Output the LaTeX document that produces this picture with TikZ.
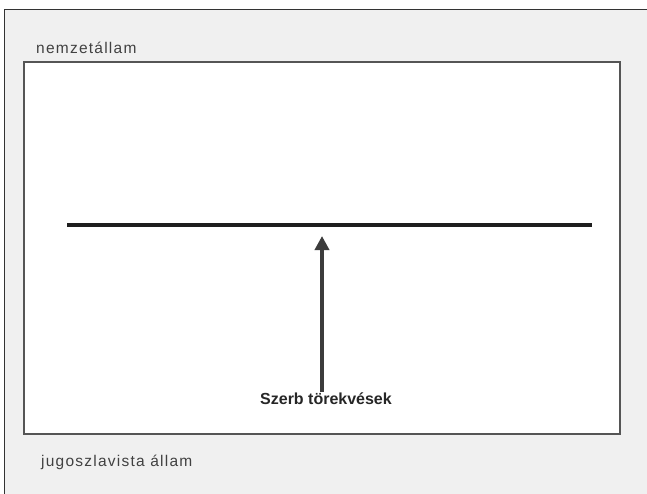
\documentclass[tikz,border=0pt]{standalone}
\usepackage{fontspec}
\setmainfont{Liberation Sans}
\usetikzlibrary{arrows.meta, positioning}
\definecolor{panelgray}{RGB}{240, 240, 240}
\definecolor{labelgray}{RGB}{65, 65, 65}
\definecolor{framegray}{RGB}{85, 85, 85}
\definecolor{bardark}{RGB}{30, 30, 30}
\definecolor{arrowdark}{RGB}{60, 60, 60}

\begin{document}
\begin{tikzpicture}[x=1pt, y=-1pt,
  statelabel/.style={anchor=base west, inner sep=0pt, text=labelgray, font=\fontsize{15.5}{18}\selectfont\addfontfeature{LetterSpace=8}},
  innerframe/.style={draw=framegray, line width=2pt, fill=white, minimum width=596pt, minimum height=372pt, inner sep=0pt},
  bar/.style={draw=bardark, line width=4pt},
  push/.style={draw=arrowdark, line width=4pt, -{Triangle[width=14pt, length=14pt]}},
  pushlabel/.style={anchor=base, inner sep=0pt, text=black!85, font=\bfseries\fontsize{16}{19}\selectfont}
]
  \useasboundingbox (0,0) rectangle (647,493);
  \fill[white] (0,0) rectangle (647,493);
  \draw[draw=black!80, fill=panelgray] (4,9) rectangle (660,505);
  \node[innerframe] (frame) at (322,248) {};
  \node[statelabel] (nemzet) at (36,53) {nemzetállam};
  \node[statelabel] (jugo) at (41,466) {jugoszlavista állam};
  \coordinate (barL) at (67,225);
  \coordinate (barR) at (592,225);
  \coordinate (aim) at (322,236);
  \draw[bar] (barL) -- (barR);
  \node[pushlabel] (szerb) at (326,404) {Szerb törekvések};
  \draw[push] (aim |- szerb.north) -- (aim);
\end{tikzpicture}
\end{document}
